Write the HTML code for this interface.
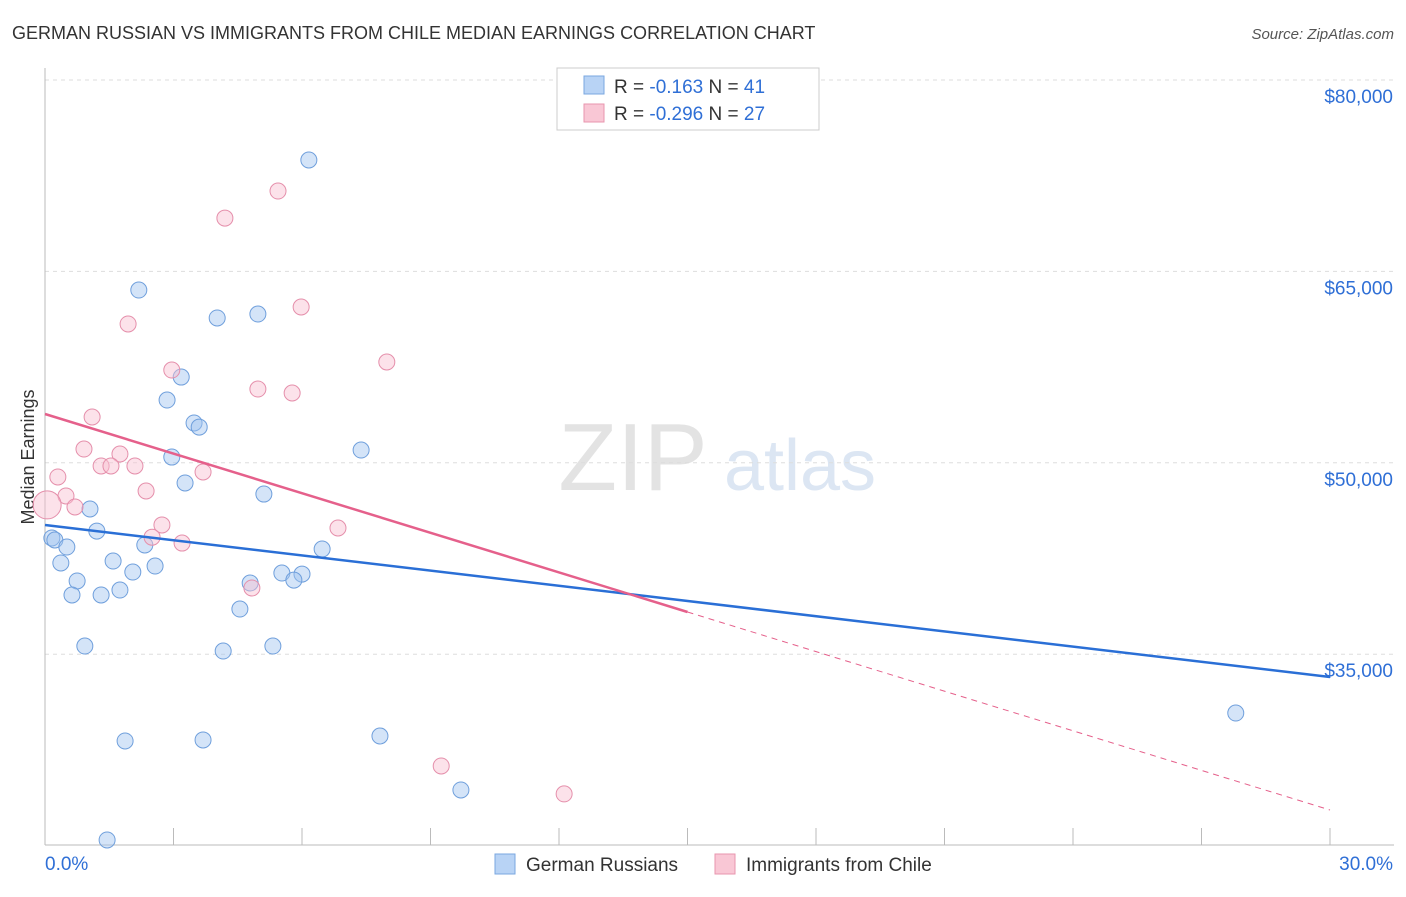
<!DOCTYPE html>
<html><head><meta charset="utf-8"><style>
body{margin:0;background:#fff;font-family:"Liberation Sans",sans-serif;}
svg text{font-family:"Liberation Sans",sans-serif;}
</style></head><body>
<svg id="chart" width="1406" height="892" xmlns="http://www.w3.org/2000/svg">
<text x="12" y="39" font-size="18" fill="#333">GERMAN RUSSIAN VS IMMIGRANTS FROM CHILE MEDIAN EARNINGS CORRELATION CHART</text>
<text x="1394" y="39" font-size="15" fill="#555" font-style="italic" text-anchor="end">Source: ZipAtlas.com</text>
<text x="633" y="490" font-size="96" fill="#e3e3e3" font-family="Liberation Serif" text-anchor="middle">ZIP</text>
<text x="800" y="490" font-size="72" fill="#dce6f3" text-anchor="middle">atlas</text>
<text transform="translate(34,457) rotate(-90)" font-size="18" fill="#333" text-anchor="middle">Median Earnings</text>
<g id="grid"></g><g id="pts"></g><g id="lines"></g>
<g>
<rect x="557" y="68" width="262" height="62" fill="#fff" stroke="#ccc"/>
<rect x="584" y="76" width="20" height="18" fill="#b8d3f5" stroke="#7aa7e0"/>
<rect x="584" y="104" width="20" height="18" fill="#f9c7d5" stroke="#e896ae"/>
<text x="614" y="93" font-size="19" fill="#333">R = <tspan fill="#2f6fd6">-0.163</tspan>   N = <tspan fill="#2f6fd6">41</tspan></text>
<text x="614" y="120" font-size="19" fill="#333">R = <tspan fill="#2f6fd6">-0.296</tspan>   N = <tspan fill="#2f6fd6">27</tspan></text>
</g>
<g>
<rect x="495" y="854" width="20" height="20" fill="#b8d3f5" stroke="#7aa7e0"/>
<text x="526" y="871" font-size="19" fill="#333">German Russians</text>
<rect x="715" y="854" width="20" height="20" fill="#f9c7d5" stroke="#e896ae"/>
<text x="746" y="871" font-size="19" fill="#333">Immigrants from Chile</text>
</g>
</svg>
<script>
const yTicks=[80000,65000,50000,35000];
const yTickLabels=["$80,000","$65,000","$50,000","$35,000"];
const xTickLabels=["0.0%","30.0%"];
const blueX=[6.16,2.19,4.02,4.97,3.18,2.85,3.48,3.60,7.38,2.96,3.27,5.11,1.05,1.21,0.16,0.23,0.51,2.33,6.47,1.59,0.37,2.57,2.05,5.53,6.00,5.81,0.75,4.79,1.75,0.63,1.31,4.55,0.93,4.16,5.32,1.87,3.69,7.82,9.71,1.45,27.80];
const blueY=[73730,63540,61350,61660,56720,54920,53120,52800,51000,50450,48420,47550,46380,44650,44110,43950,43400,43560,43240,42300,42150,41910,41440,41360,41280,40810,40740,40580,40030,39640,39640,38540,35640,35250,35640,28200,28280,28590,24360,20440,30390];
const pinkX=[5.44,4.20,5.98,1.94,7.98,2.96,4.97,5.77,1.10,0.91,1.75,1.31,1.54,2.10,3.69,0.30,2.36,0.49,0.70,0.05,2.73,6.84,2.50,3.20,4.83,9.25,12.12];
const pinkY=[71300,69180,62210,60880,57900,57270,55780,55470,53590,51080,50690,49750,49750,49750,49280,48890,47790,47400,46540,46700,45130,44890,44170,43710,40190,26240,24050];
const blueTrend=[45125,33213];
const pinkTrend=[53825,22790];
const pinkSolidEnd=15;
const X=v=>45+v/30*1285, Y=v=>80+(80000-v)/1000*12.76;
const NS="http://www.w3.org/2000/svg";
function mk(tag,attrs,parent){const e=document.createElementNS(NS,tag);for(const k in attrs)e.setAttribute(k,attrs[k]);document.getElementById(parent).appendChild(e);return e;}
yTicks.forEach((t,i)=>{
 const g=mk('line',{x1:45,x2:1394,y1:Y(t),y2:Y(t),stroke:'#ddd','stroke-dasharray':'4,4'},'grid');
 
 
 const l=mk('text',{x:1393,y:Y(t)+23,'font-size':19,fill:'#2f6fd6','text-anchor':'end'},'grid');
 l.textContent=yTickLabels[i];
 
 
});
const ax=mk('line',{x1:45,x2:45,y1:68,y2:845,stroke:'#bbb'},'grid');


const bx=mk('line',{x1:45,x2:1394,y1:845,y2:845,stroke:'#bbb'},'grid');


for(let i=0;i<=10;i++){
 const t=mk('line',{x1:X(i*3),x2:X(i*3),y1:828,y2:845,stroke:'#bbb'},'grid');
 
 
}
[[0,45,'start'],[30,1393,'end']].forEach((d,i)=>{
 const l=mk('text',{x:d[1],y:870,'font-size':19,fill:'#2f6fd6','text-anchor':d[2]},'grid');
 l.textContent=xTickLabels[i];
 
 
});
blueX.forEach((x,i)=>{
 const c=mk('circle',{cx:X(x),cy:Y(blueY[i]),r:8,fill:'rgba(160,196,240,0.45)',stroke:'#6f9fdc','stroke-width':1},'pts');
 
 
});
pinkX.forEach((x,i)=>{
 const c=mk('circle',{cx:X(x),cy:Y(pinkY[i]),r:i==19?14:8,fill:'rgba(248,190,208,0.45)',stroke:'#e58fab','stroke-width':1},'pts');
 
 
});
const bl=mk('line',{x1:X(0),y1:Y(blueTrend[0]),x2:X(30),y2:Y(blueTrend[1]),stroke:'#2a6fd6','stroke-width':2.5},'lines');


const pm=pinkTrend[0]+(pinkTrend[1]-pinkTrend[0])*pinkSolidEnd/30;
const pl=mk('line',{x1:X(0),y1:Y(pinkTrend[0]),x2:X(pinkSolidEnd),y2:Y(pm),stroke:'#e5608b','stroke-width':2.5},'lines');


const pd=mk('line',{x1:X(pinkSolidEnd),y1:Y(pm),x2:X(30),y2:Y(pinkTrend[1]),stroke:'#e5608b','stroke-width':1,'stroke-dasharray':'6,5'},'lines');


</script>
</body></html>
